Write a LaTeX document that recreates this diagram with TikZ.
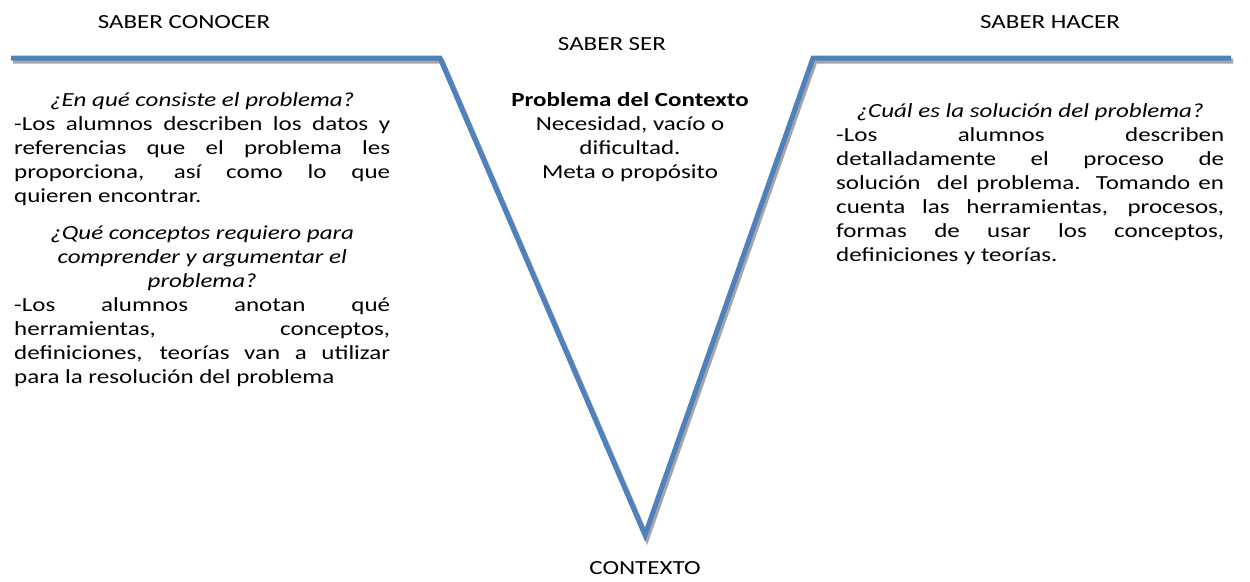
\documentclass[tikz,border=0pt]{standalone}
\usepackage{fontspec}
\setmainfont{Carlito}[FakeStretch=1.25]
\usepackage{tikz}
\usetikzlibrary{positioning,calc}
\setlength{\parindent}{0pt}

\definecolor{vblue}{RGB}{79,129,189}
\definecolor{vgray}{RGB}{165,165,165}

\begin{document}
\begin{tikzpicture}[x=1pt,y=-1pt,
    title/.style={font=\fontsize{20}{24}\selectfont, inner sep=0pt},
    body/.style={font=\fontsize{20}{24}\selectfont, inner sep=0pt, align=justify},
    vline/.style={line width=5pt, draw=vblue, line join=miter},
    vshade/.style={line width=5pt, draw=vgray, line join=miter}]
    \useasboundingbox (0,0) rectangle (1250,581);

    % V line
    \coordinate (la) at (11,58);
    \coordinate (lb) at (440,58);
    \coordinate (lc) at (645,535);
    \coordinate (ld) at (813,58);
    \coordinate (le) at (1231,58);
    \begin{scope}[transform canvas={shift={(2pt,-3pt)}}]
        \draw[vshade] (la) -- (lb) -- (lc) -- (ld) -- (le);
    \end{scope}
    \draw[vline] (la) -- (lb) -- (lc) -- (ld) -- (le);

    % Titles
    \node[title] (conocer) at (184,22) {SABER CONOCER};
    \node[title] (ser) at (612,44) {SABER SER};
    \node[title] (hacer) at (1050,22) {SABER HACER};
    \node[title] (contexto) at (645,568) {CONTEXTO};

    % Saber conocer
    \node[body, text width=376pt, anchor=north west] (conocertxt) at (14,92) {%
        {\centering\itshape ¿En qué consiste el problema?\par}
        -Los alumnos describen los datos y\linebreak
        referencias que el problema les\linebreak
        proporciona, así como lo que\linebreak
        quieren encontrar.\par
        \vspace{13pt}
        {\centering\itshape ¿Qué conceptos requiero para\\
        comprender y argumentar el\\
        problema?\par}
        -Los alumnos anotan qué\linebreak
        herramientas, conceptos,\linebreak
        definiciones, teorías van a utilizar\linebreak
        para la resolución del problema\par};

    % Saber ser
    \node[body, align=center, anchor=north] (sertxt) at (630,92) {%
        \textbf{Problema del Contexto}\\
        Necesidad, vacío o\\
        dificultad.\\
        Meta o propósito};

    % Saber hacer
    \node[body, text width=388pt, anchor=north west] (hacertxt) at (836,103) {%
        {\centering\itshape ¿Cuál es la solución del problema?\par}
        -Los alumnos describen\linebreak
        detalladamente el proceso de\linebreak
        solución\ \ del problema. Tomando en\linebreak
        cuenta las herramientas, procesos,\linebreak
        formas de usar los conceptos,\linebreak
        definiciones y teorías.\par};
\end{tikzpicture}
\end{document}
